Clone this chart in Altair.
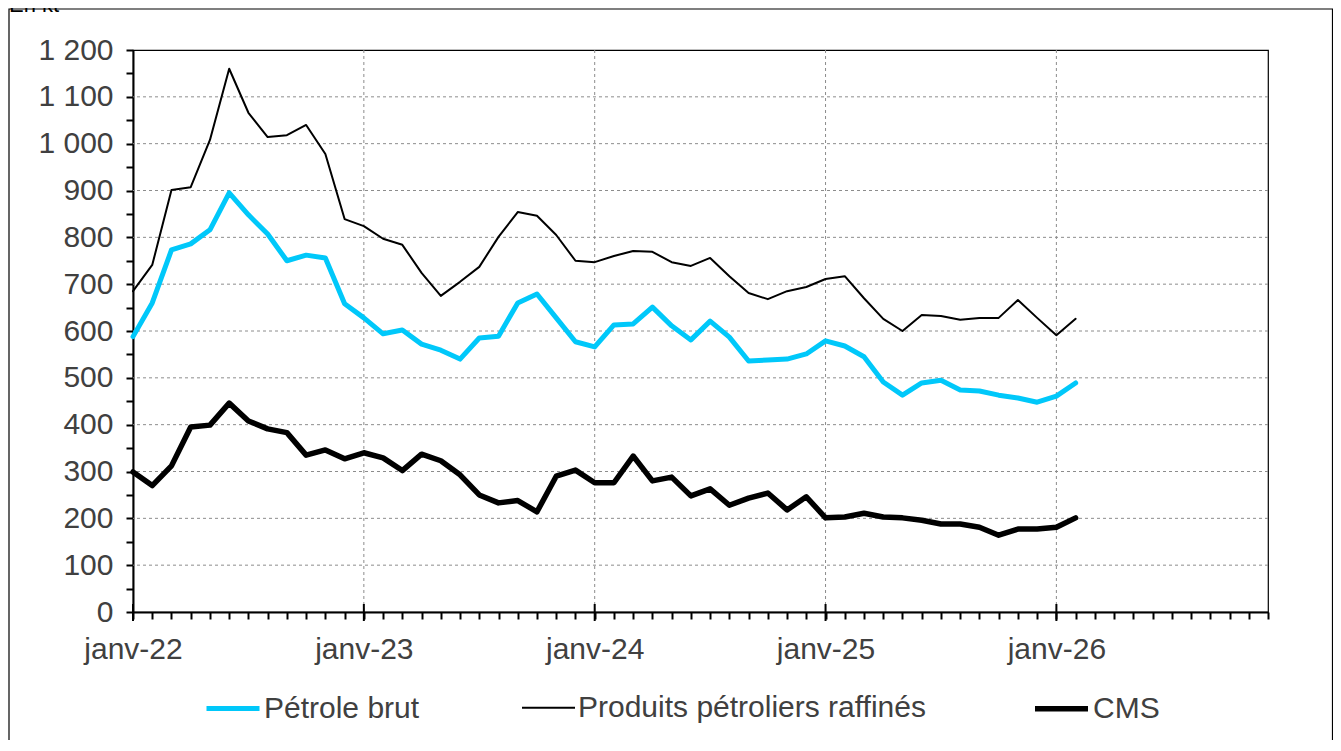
import altair as alt
import pandas as pd

# ---- data (kt, monthly from janv-22) ----
series_names = ["Pétrole brut", "Produits pétroliers raffinés", "CMS"]
series_colors = ["#00C8FA", "#000000", "#000000"]
series_widths = [5, 2, 5.5]

petrole = [588, 660, 773, 786, 816, 895, 848, 807, 750, 762, 756, 658,
           628, 594, 602, 572, 559, 540, 585, 589, 660, 679, 628, 577,
           566, 613, 615, 651, 611, 581, 621, 587, 536, 538, 540, 551,
           579, 568, 545, 491, 463, 489, 495, 474, 472, 463, 457, 448,
           461, 489]
produits = [685, 741, 901, 907, 1008, 1160, 1066, 1014, 1018, 1040, 978, 839,
            824, 797, 784, 724, 675, 705, 737, 801, 854, 846, 805, 750,
            747, 760, 771, 769, 747, 739, 756, 717, 681, 668, 685, 694,
            711, 717, 670, 626, 600, 634, 632, 624, 628, 628, 666, 628,
            591, 626]
cms = [299, 270, 312, 395, 399, 446, 408, 391, 383, 335, 346, 327,
       340, 329, 302, 337, 323, 293, 250, 233, 238, 214, 290, 303,
       276, 276, 333, 280, 288, 248, 263, 228, 243, 254, 218, 246,
       201, 203, 211, 203, 201, 196, 188, 188, 181, 164, 177, 177,
       181, 201]

start_year = 22          # janv-22
axis_months = 60         # janv-22 .. déc-26
y_max = 1200
y_grid = list(range(100, y_max, 100))
x_grid = [12, 24, 36, 48]
jan_ticks = [0, 12, 24, 36, 48]
unit_label = "En kt"

rows = []
for name, vals in zip(series_names, [petrole, produits, cms]):
    for i, v in enumerate(vals):
        rows.append({"serie": name, "mois": i, "valeur": v})
df = pd.DataFrame(rows)

W, H = 1135, 562
FONT = "Liberation Sans"
TXT = "#404040"
FS = 30

x_scale = alt.Scale(domain=[0, axis_months - 1], nice=False, zero=False)
y_scale = alt.Scale(domain=[0, y_max], nice=False)

x_axis = alt.Axis(
    values=list(range(axis_months)),
    labelExpr=f"datum.value % 12 == 0 ? 'janv-' + ({start_year} + datum.value / 12) : ''",
    grid=False, tickSize=7, tickWidth=2, tickColor="black",
    domainColor="black", domainWidth=2,
    labelFontSize=FS, labelColor=TXT, labelFont=FONT, labelPadding=15,
    labelFlush=False, labelOverlap=False, title=None,
)
y_axis = alt.Axis(
    values=list(range(0, y_max + 1, 50)),
    labelExpr="datum.value % 100 == 0 ? replace(format(datum.value, ','), ',', ' ') : ''",
    grid=False, tickSize=7, tickWidth=2, tickColor="black",
    domainColor="black", domainWidth=2,
    labelFontSize=FS, labelColor=TXT, labelFont=FONT, labelPadding=13,
    labelOverlap=False, title=None,
)

hgrid = alt.Chart(pd.DataFrame({"v": y_grid})).mark_rule(
    color="#8c8c8c", strokeWidth=1, strokeDash=[3, 3]
).encode(y=alt.Y("v:Q", scale=y_scale, axis=y_axis))

vgrid = alt.Chart(pd.DataFrame({"m": x_grid})).mark_rule(
    color="#8c8c8c", strokeWidth=1, strokeDash=[3, 3]
).encode(x=alt.X("m:Q", scale=x_scale, axis=x_axis))

major_ticks = alt.Chart(pd.DataFrame({"m": jan_ticks})).mark_rule(
    color="black", strokeWidth=2
).encode(
    x=alt.X("m:Q", scale=x_scale, axis=x_axis),
    y=alt.value(H - 8), y2=alt.value(H + 9),
)

lines = alt.Chart(df).mark_line(strokeJoin="round", strokeCap="round").encode(
    x=alt.X("mois:Q", scale=x_scale, axis=x_axis),
    y=alt.Y("valeur:Q", scale=y_scale, axis=y_axis),
    color=alt.Color("serie:N", scale=alt.Scale(domain=series_names, range=series_colors),
                    sort=series_names, title=None),
    strokeWidth=alt.StrokeWidth("serie:N",
                                scale=alt.Scale(type="ordinal", domain=series_names, range=series_widths),
                                sort=series_names, title=None),
)

one = pd.DataFrame({"a": [0]})
frame = alt.Chart(one).mark_rect(fill=None, stroke="black", strokeWidth=1.2).encode(
    x=alt.value(-124), x2=alt.value(1199.5), y=alt.value(-41), y2=alt.value(H + 160),
)
unit = alt.Chart(one).mark_text(
    text=unit_label, font=FONT, fontSize=22, color="black", align="left", baseline="alphabetic"
).encode(x=alt.value(-124), y=alt.value(-38))

chart = alt.layer(frame, unit, hgrid, vgrid, major_ticks, lines).properties(
    width=W, height=H,
    autosize=alt.AutoSizeParams(type="none"),
    padding={"left": 125, "top": 42, "right": 65, "bottom": 128},
    background="white",
).configure_view(
    stroke="black", strokeWidth=1.2
).configure_legend(
    orient="none", legendX=71, legendY=629, direction="horizontal",
    symbolType="stroke", symbolSize=2809, labelOffset=2, columnPadding=98,
    labelFontSize=FS, labelFont=FONT, labelColor=TXT, padding=0,
    labelLimit=600,
)

chart.save("out.html", embed_options={"renderer": "svg", "actions": False})
